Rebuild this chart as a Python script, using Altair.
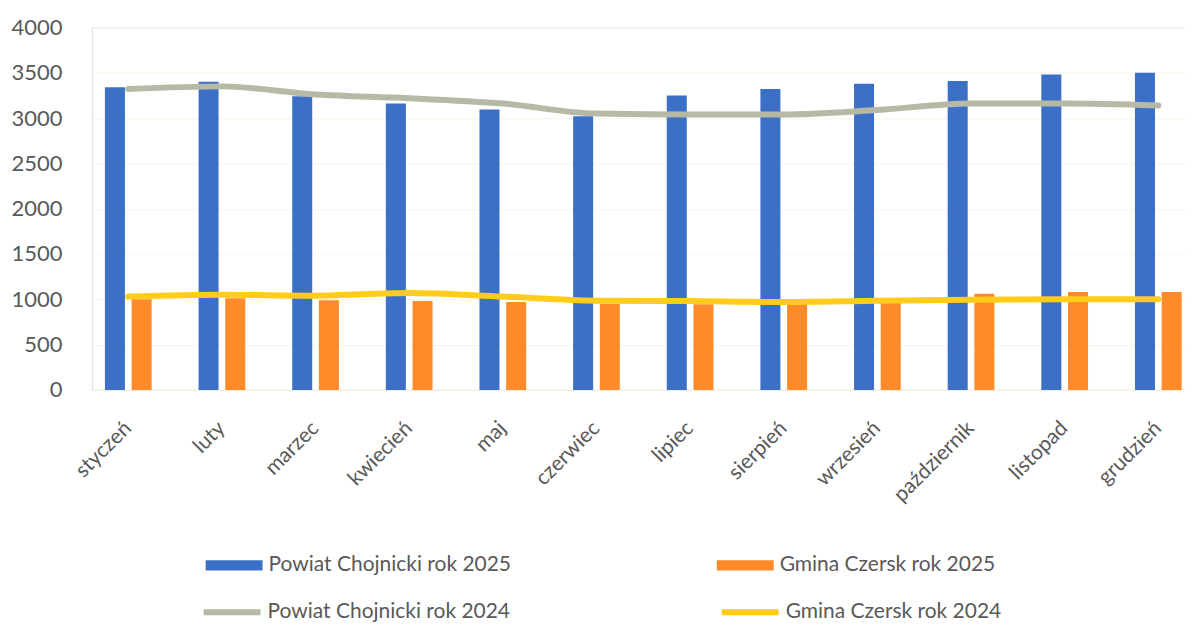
import altair as alt
import pandas as pd

months = ["styczeń", "luty", "marzec", "kwiecień", "maj", "czerwiec",
          "lipiec", "sierpień", "wrzesień", "październik", "listopad", "grudzień"]
powiat_2025 = [3340, 3400, 3240, 3160, 3095, 3020, 3250, 3320, 3380, 3410, 3480, 3500]
gmina_2025 = [1000, 1010, 990, 980, 970, 950, 945, 945, 960, 1060, 1080, 1080]
powiat_2024 = [3320, 3350, 3260, 3220, 3160, 3050, 3040, 3040, 3090, 3160, 3160, 3140]
gmina_2024 = [1030, 1050, 1040, 1070, 1030, 985, 980, 970, 985, 995, 1000, 1000]

s_p25 = "Powiat Chojnicki rok 2025"
s_g25 = "Gmina Czersk rok 2025"
s_p24 = "Powiat Chojnicki rok 2024"
s_g24 = "Gmina Czersk rok 2024"

bars = pd.DataFrame(
    [{"month": m, "series": s_p25, "value": v} for m, v in zip(months, powiat_2025)]
    + [{"month": m, "series": s_g25, "value": v} for m, v in zip(months, gmina_2025)]
)
lines = pd.DataFrame(
    [{"month": m, "series": s_p24, "value": v} for m, v in zip(months, powiat_2024)]
    + [{"month": m, "series": s_g24, "value": v} for m, v in zip(months, gmina_2024)]
)

FONT = "Lato"
TXT = "#595959"

x_scale = alt.Scale(domain=months, paddingInner=0.43, paddingOuter=0.052, align=1)
x_axis = alt.Axis(title=None, labelAngle=-45, labelAlign="right", labelBaseline="middle",
                  labelFont=FONT, labelFontSize=21, labelColor=TXT, labelPadding=35,
                  ticks=False, domain=True, domainColor="#F2EFD8", grid=False)
y_scale = alt.Scale(domain=[0, 4000], nice=False)
y_axis = alt.Axis(title=None, values=list(range(0, 4001, 500)), format="d", labelFont=FONT,
                  labelFontSize=22, labelColor=TXT, labelPadding=30, ticks=False,
                  domain=False, grid=True, gridColor="#F7F5E6", gridWidth=1)

rect_path = "M-1,-0.18H1V0.18H-1Z"

bar_layer = alt.Chart(bars).mark_bar().encode(
    x=alt.X("month:N", scale=x_scale, axis=x_axis, sort=months),
    xOffset=alt.XOffset("series:N", scale=alt.Scale(domain=[s_p25, s_g25], paddingInner=0.25, paddingOuter=0.125)),
    y=alt.Y("value:Q", scale=y_scale, axis=y_axis),
    fill=alt.Fill("series:N",
                  scale=alt.Scale(domain=[s_p25, s_g25], range=["#3C70C6", "#FF8A2A"]),
                  legend=alt.Legend(title=None, orient="none", legendX=114, legendY=510,
                                    direction="horizontal", columns=2, columnPadding=206,
                                    symbolType=rect_path, symbolSize=3249, symbolStrokeWidth=0,
                                    labelFont=FONT, labelFontSize=21, labelColor=TXT,
                                    labelOffset=6, labelLimit=500)),
)

line_layer = alt.Chart(lines).mark_line(strokeWidth=6, interpolate="monotone", strokeCap="round").encode(
    x=alt.X("month:N", scale=x_scale, sort=months, bandPosition=0.5),
    y=alt.Y("value:Q", scale=y_scale),
    stroke=alt.Stroke("series:N",
                      scale=alt.Scale(domain=[s_p24, s_g24], range=["#B6B9A6", "#FFCC1C"]),
                      legend=alt.Legend(title=None, orient="none", legendX=109, legendY=554,
                                        direction="horizontal", columns=2, columnPadding=200,
                                        symbolType="stroke", symbolSize=3249, symbolStrokeWidth=6,
                                        labelFont=FONT, labelFontSize=21, labelColor=TXT,
                                        labelOffset=4, labelLimit=500)),
)

chart = alt.layer(bar_layer, line_layer).properties(
    width=1095, height=363,
    padding={"left": 2, "top": 8, "right": 0, "bottom": 0},
).configure_view(stroke=None).configure(background="white")

chart.save("out.html", embed_options={"renderer": "svg", "actions": False})
